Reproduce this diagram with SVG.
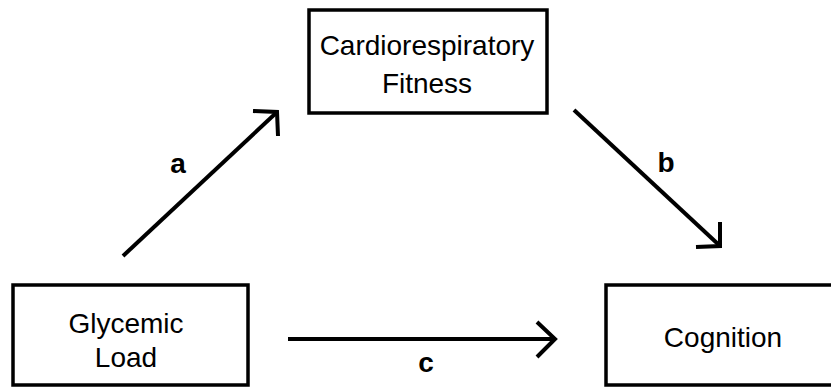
<svg xmlns="http://www.w3.org/2000/svg" width="831" height="388" viewBox="0 0 831 388">
<style>
.box{fill:#fff;stroke:#000;stroke-width:3.5}
.t{font-family:"Liberation Sans",Arial,sans-serif;font-size:28px;fill:#000;text-anchor:middle}
.l{font-family:"Liberation Sans",Arial,sans-serif;font-size:28px;font-weight:bold;fill:#000;text-anchor:middle}
.c{fill:none;stroke:#000;stroke-width:4;stroke-linecap:butt}
</style>
<rect width="831" height="388" fill="#fff"/>
<g id="cardio">
<rect class="box" x="309" y="10" width="238" height="103"/>
<text class="t" x="427" y="55">Cardiorespiratory</text>
<text class="t" x="427" y="93">Fitness</text>
</g>
<g id="glycemic">
<rect class="box" x="13" y="285" width="235" height="100"/>
<text class="t" x="126" y="333">Glycemic</text>
<text class="t" x="126" y="367">Load</text>
</g>
<g id="cognition">
<rect class="box" x="606" y="285" width="240" height="100"/>
<text class="t" x="723" y="347">Cognition</text>
</g>
<g id="connectors">
<line class="c" x1="123" y1="256" x2="276" y2="113"/>
<polyline class="c" points="253,111 277,112 278,136"/>
<line class="c" x1="574" y1="110" x2="719" y2="245"/>
<polyline class="c" points="720,222 720,246 696,247"/>
<line class="c" x1="288" y1="339" x2="554" y2="339"/>
<polyline class="c" points="537,322 555,339 537,357"/>
<text class="l" x="178" y="173">a</text>
<text class="l" x="666" y="172">b</text>
<text class="l" x="426" y="372">c</text>
</g>
</svg>
